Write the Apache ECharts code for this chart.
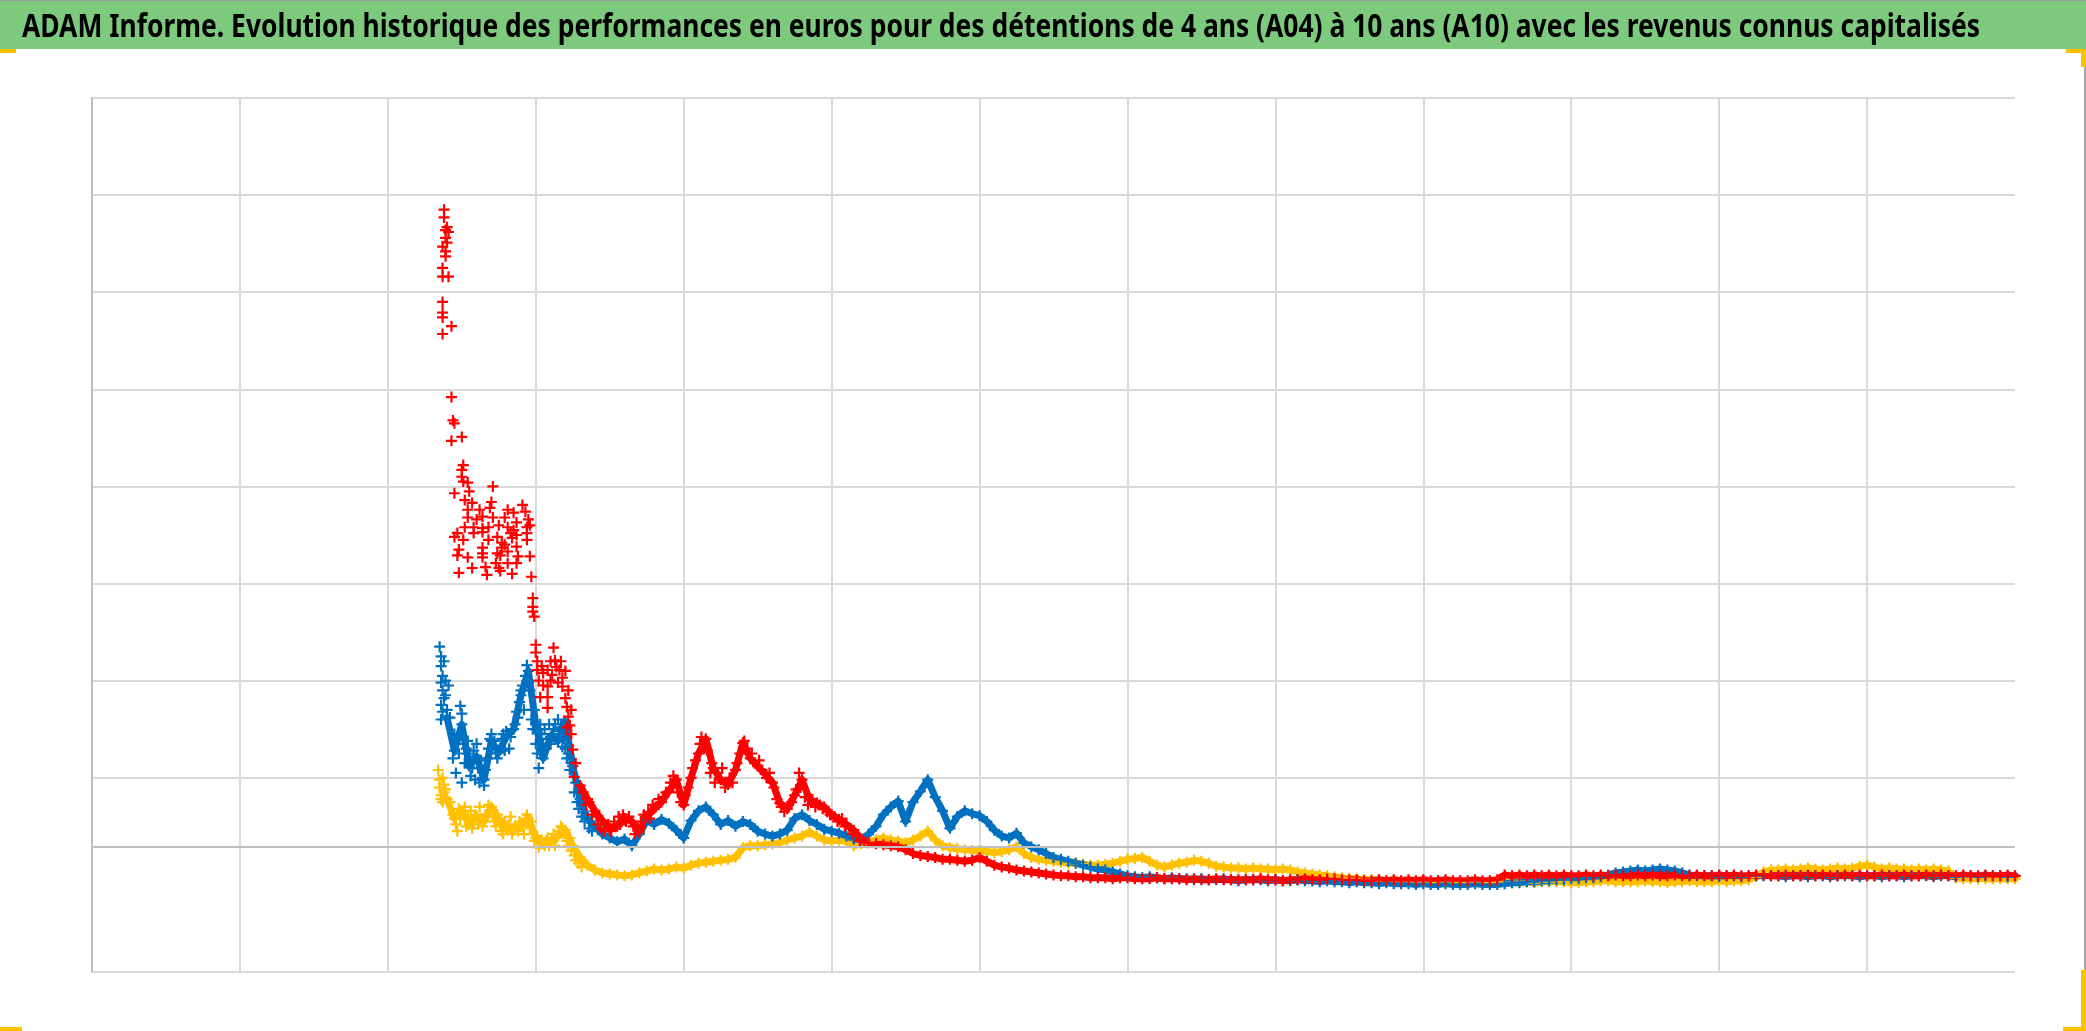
<!DOCTYPE html>
<html><head><meta charset="utf-8">
<script src="https://cdn.jsdelivr.net/npm/echarts@6/dist/echarts.min.js"></script>
<style>html,body{margin:0;padding:0;background:#fff;}#c{width:2086px;height:1031px;}</style>
</head><body><div id="c"></div>
<script>
const titleText = "ADAM Informe. Evolution historique des performances en euros pour des détentions de 4 ans (A04) à 10 ans (A10) avec les revenus connus capitalisés";

// x in plot units (one vertical gridline per unit), y in plot units (one horizontal gridline per unit)
const xStep = 0.05;
const axisCrossing = 1.287; // horizontal axis (darker line)

// A04 (yellow)
const a04Start = 2.40;
const a04Values = [
  1.78,1.58,1.66,1.52,1.6,1.55,1.7,1.58,1.48,1.46,
  1.52,1.58,1.38,1.32,1.34,1.4,1.46,1.3,1.18,1.1,
  1.05,1.02,1.01,1.0,0.99,1.0,1.02,1.04,1.06,1.05,
  1.06,1.08,1.07,1.1,1.12,1.13,1.14,1.15,1.16,1.18,
  1.28,1.3,1.3,1.31,1.32,1.33,1.36,1.38,1.4,1.44,
  1.4,1.36,1.35,1.36,1.34,1.3,1.32,1.34,1.36,1.38,
  1.36,1.35,1.33,1.36,1.4,1.45,1.36,1.3,1.28,1.27,
  1.26,1.25,1.25,1.24,1.23,1.24,1.26,1.29,1.22,1.18,
  1.16,1.15,1.14,1.13,1.12,1.12,1.11,1.1,1.1,1.11,
  1.12,1.14,1.16,1.17,1.18,1.14,1.1,1.08,1.1,1.12,
  1.13,1.15,1.14,1.12,1.09,1.08,1.07,1.07,1.06,1.07,
  1.06,1.06,1.05,1.06,1.05,1.03,1.02,1.01,1.0,0.99,
  0.98,0.97,0.96,0.96,0.95,0.95,0.94,0.94,0.94,0.93,
  0.93,0.93,0.92,0.92,0.93,0.92,0.92,0.93,0.92,0.92,
  0.92,0.92,0.93,0.92,0.92,0.93,0.93,0.92,0.93,0.93,
  0.93,0.93,0.92,0.92,0.93,0.93,0.94,0.94,0.93,0.93,
  0.93,0.93,0.94,0.93,0.93,0.92,0.93,0.93,0.94,0.93,
  0.93,0.93,0.94,0.93,0.94,0.94,0.95,0.98,1.03,1.05,
  1.05,1.06,1.05,1.06,1.07,1.06,1.05,1.06,1.07,1.06,
  1.07,1.09,1.1,1.08,1.06,1.07,1.06,1.06,1.05,1.06,
  1.05,1.06,1.05,1.04,0.97,0.96,0.96,0.96,0.96,0.96,
  0.96,0.96,0.96
];
const a04Extra = [
  [2.34,2.08],[2.35,1.98],[2.35,1.9],[2.36,1.82],[2.36,1.78],[2.37,2.0],[2.38,1.93],[2.38,1.85],
  [2.37,1.75],[2.39,1.88],[2.42,1.75],[2.47,1.45],[2.52,1.7],[2.57,1.48],[2.62,1.7],[2.72,1.55],
  [2.78,1.42],[2.83,1.6],[2.92,1.42],[2.97,1.55],[3.02,1.28],[3.08,1.38],[3.13,1.3],[3.17,1.5],[3.23,1.38],
  [2.44,1.62],[2.46,1.52],[2.48,1.68],[2.49,1.58],[2.51,1.62],[2.53,1.5],[2.54,1.6],[2.56,1.66],
  [2.58,1.55],[2.59,1.62],[2.61,1.52],[2.63,1.58],[2.64,1.5],[2.66,1.62],[2.68,1.72],[2.69,1.64],
  [2.71,1.6],[2.73,1.5],[2.74,1.62],[2.76,1.52],[2.77,1.45],[2.79,1.55],[2.81,1.48],[2.82,1.52],
  [2.84,1.42],[2.86,1.5],[2.88,1.45],[2.89,1.55],[2.91,1.5],[2.93,1.58],[2.94,1.62],[2.96,1.48],
  [2.98,1.42],[2.99,1.35],[3.01,1.4],[3.03,1.32],[3.04,1.36],[3.06,1.3],[3.07,1.35],[3.09,1.3],
  [3.11,1.36],[3.12,1.42],[3.14,1.38],[3.16,1.45],[3.18,1.48],[3.19,1.42],[3.21,1.35],[3.22,1.3],
  [3.24,1.25],[3.26,1.2],[3.27,1.15],[3.29,1.12],[3.31,1.08]
];

// A07 (blue)
const a07Start = 2.40;
const a07Values = [
  2.62,2.28,2.55,2.12,2.22,1.98,2.38,2.26,2.42,2.5,
  2.85,3.1,2.55,2.2,2.42,2.38,2.58,2.12,1.78,1.58,
  1.5,1.42,1.38,1.34,1.37,1.3,1.42,1.56,1.52,1.57,
  1.53,1.46,1.38,1.56,1.66,1.7,1.62,1.52,1.56,1.5,
  1.55,1.52,1.45,1.42,1.4,1.42,1.46,1.58,1.62,1.56,
  1.52,1.47,1.45,1.43,1.4,1.37,1.36,1.42,1.5,1.62,
  1.7,1.76,1.55,1.75,1.86,1.98,1.8,1.66,1.48,1.6,
  1.66,1.63,1.61,1.55,1.46,1.4,1.38,1.43,1.33,1.29,
  1.26,1.22,1.18,1.16,1.14,1.12,1.1,1.08,1.06,1.05,
  1.03,1.01,0.99,0.98,0.97,0.98,0.97,0.96,0.97,0.96,
  0.96,0.95,0.96,0.95,0.95,0.96,0.95,0.94,0.95,0.95,
  0.95,0.94,0.95,0.94,0.94,0.95,0.94,0.94,0.93,0.94,
  0.93,0.93,0.92,0.93,0.92,0.92,0.91,0.92,0.91,0.91,
  0.91,0.9,0.91,0.9,0.9,0.91,0.9,0.9,0.9,0.91,
  0.9,0.9,0.9,0.91,0.92,0.92,0.93,0.93,0.94,0.94,
  0.95,0.95,0.96,0.96,0.97,0.97,0.98,1.0,1.02,1.03,
  1.04,1.05,1.04,1.05,1.06,1.05,1.04,1.02,1.0,0.99,
  0.99,0.99,0.98,0.99,0.99,0.98,0.99,0.99,0.99,0.99,
  0.99,0.98,0.99,0.99,0.98,0.99,0.99,0.98,0.99,0.99,
  0.99,0.98,0.99,0.99,0.98,0.99,0.99,0.98,0.99,0.99,
  0.99,0.98,0.99,0.99,0.98,0.99,0.99,0.98,0.99,0.99,
  0.99,0.98,0.99
];
const a07Extra = [
  [2.35,3.35],[2.36,3.25],[2.36,3.15],[2.37,3.05],[2.36,2.98],[2.37,2.9],[2.38,2.82],[2.36,2.75],
  [2.37,2.68],[2.36,2.6],[2.38,3.2],[2.39,3.0],[2.39,2.85],[2.4,2.7],[2.41,2.95],[2.42,2.62],
  [2.49,2.74],[2.5,2.66],[2.45,2.45],[2.47,2.35],[2.53,2.3],[2.56,2.02],[2.58,2.28],[2.62,1.95],
  [2.63,2.18],[2.66,2.08],[2.69,2.4],[2.73,2.25],[2.78,2.45],[2.82,2.3],[2.88,2.62],[2.91,2.95],
  [2.92,2.7],[2.96,2.9],[2.99,2.7],[3.0,2.35],[3.02,2.1],[3.04,2.45],[3.07,2.3],[3.12,2.5],
  [3.18,2.32],[3.22,2.25],[3.27,1.95],[3.32,1.65],
  [2.44,2.2],[2.46,2.05],[2.48,2.25],[2.5,1.95],[2.52,2.15],[2.54,2.38],[2.55,2.25],[2.57,2.1],
  [2.59,1.98],[2.6,2.35],[2.61,2.1],[2.64,2.0],[2.65,1.92],[2.67,2.2],[2.68,2.3],[2.7,2.45],
  [2.72,2.38],[2.74,2.2],[2.76,2.3],[2.77,2.4],[2.79,2.28],[2.8,2.48],[2.83,2.42],[2.84,2.5],
  [2.86,2.55],[2.87,2.68],[2.89,2.78],[2.9,2.9],[2.93,3.05],[2.94,3.16],[2.95,2.98],[2.97,2.6],
  [2.98,2.5],[3.01,2.25],[3.03,2.55],[3.05,2.35],[3.06,2.5],[3.08,2.4],[3.09,2.55],[3.1,2.35],
  [3.11,2.45],[3.13,2.55],[3.14,2.4],[3.15,2.6],[3.16,2.48],[3.17,2.52],[3.19,2.4],[3.2,2.3],
  [3.21,2.2],[3.23,2.08],[3.24,2.15],[3.26,1.85],[3.28,1.75],[3.29,1.68],[3.31,1.6],[3.33,1.55],
  [3.36,1.48],[3.38,1.45]
];

// A10 (red)
const a10Start = 3.30;
const a10Values = [
  1.92,1.78,1.66,1.56,1.47,1.5,1.58,1.55,1.44,1.6,
  1.68,1.75,1.86,1.98,1.72,2.0,2.25,2.4,2.1,1.98,
  1.93,2.08,2.36,2.2,2.12,2.04,1.95,1.74,1.68,1.82,
  1.98,1.78,1.74,1.7,1.62,1.57,1.52,1.46,1.37,1.33,
  1.32,1.31,1.3,1.29,1.26,1.22,1.2,1.19,1.18,1.16,
  1.16,1.15,1.14,1.15,1.18,1.14,1.1,1.08,1.07,1.05,
  1.04,1.03,1.02,1.01,1.0,0.99,0.99,0.98,0.98,0.97,
  0.97,0.97,0.96,0.97,0.97,0.96,0.96,0.96,0.97,0.96,
  0.96,0.96,0.95,0.96,0.95,0.95,0.96,0.95,0.95,0.95,
  0.95,0.95,0.96,0.95,0.95,0.94,0.95,0.95,0.96,0.95,
  0.95,0.96,0.96,0.95,0.95,0.95,0.94,0.94,0.95,0.94,
  0.95,0.94,0.95,0.94,0.95,0.94,0.94,0.95,0.94,0.94,
  0.94,0.95,0.94,0.94,0.95,1.0,0.99,1.0,0.99,1.0,
  0.99,1.0,0.99,1.0,0.99,0.99,1.0,0.99,1.0,0.99,
  1.0,0.99,0.99,1.0,0.99,1.0,0.99,0.99,1.0,0.99,
  0.99,1.0,0.99,0.99,1.0,0.99,1.0,0.99,0.99,1.0,
  1.0,0.99,0.99,1.0,0.99,0.99,1.0,0.99,1.0,0.99,
  0.99,1.0,0.99,1.0,0.99,0.99,1.0,0.99,0.99,1.0,
  0.99,0.99,1.0,0.99,1.0,0.99,0.99,1.0,0.99,0.99,
  1.0,0.99,0.99,1.0,0.99
];
const a10Extra = [
  [2.38,7.85],[2.38,7.77],[2.40,7.67],[2.39,7.64],[2.41,7.62],[2.39,7.56],[2.40,7.51],[2.37,7.47],
  [2.39,7.42],[2.39,7.37],[2.37,7.25],[2.37,7.16],[2.41,7.16],
  [2.37,6.90],[2.37,6.79],[2.37,6.74],[2.43,6.65],[2.37,6.57],
  [2.43,5.92],[2.44,5.68],[2.45,5.65],[2.43,5.47],[2.50,5.51],
  [2.51,5.22],[2.50,5.17],[2.50,5.10],[2.51,5.05],[2.45,4.93],[2.54,5.04],[2.55,4.95],[2.71,5.00],
  [2.52,4.86],[2.57,4.83],[2.54,4.76],[2.62,4.76],[2.70,4.84],[2.69,4.78],[2.81,4.76],[2.85,4.73],
  [2.91,4.81],[2.93,4.74],[2.95,4.66],
  [2.54,4.68],[2.60,4.66],[2.64,4.69],[2.71,4.68],[2.79,4.68],[2.87,4.63],
  [2.52,4.58],[2.58,4.58],[2.64,4.57],[2.68,4.58],[2.75,4.60],[2.81,4.58],[2.85,4.55],[2.94,4.58],[2.96,4.60],
  [2.47,4.52],[2.58,4.52],[2.64,4.53],[2.83,4.52],[2.87,4.50],[2.94,4.52],
  [2.45,4.48],[2.51,4.45],[2.68,4.45],[2.74,4.48],[2.84,4.47],[2.94,4.45],
  [2.77,4.42],[2.79,4.40],[2.64,4.37],[2.77,4.37],[2.87,4.38],
  [2.48,4.35],[2.64,4.31],[2.74,4.31],[2.81,4.33],[2.47,4.29],[2.76,4.29],[2.96,4.28],[2.54,4.27],
  [2.64,4.27],[2.88,4.28],
  [2.73,4.21],[2.81,4.21],[2.87,4.21],[2.66,4.17],[2.57,4.16],[2.75,4.16],[2.76,4.13],[2.48,4.11],
  [2.67,4.09],[2.84,4.10],[2.97,4.07],
  [2.98,3.85],[2.98,3.76],[2.98,3.71],[2.99,3.66],[3.00,3.37],[3.00,3.29],[3.12,3.34],
  [3.01,3.20],[3.01,3.11],[3.05,3.08],[3.08,3.11],[3.11,3.06],[3.13,3.21],[3.14,3.14],[3.16,3.11],[3.18,3.03],
  [3.08,2.94],[3.03,2.83],[3.08,2.83],[3.08,2.72],[3.18,2.94],[3.20,2.82],[3.21,2.73],[3.22,2.63],
  [3.23,2.54],[3.21,2.52],[3.02,3.0],[3.05,2.95],[3.1,3.0],[3.15,2.98],[3.04,3.15],[3.1,3.2],
  [3.17,3.2],[3.2,3.1],[3.22,2.9],[3.24,2.7],[3.24,2.45],
  [3.25,2.29],[3.27,2.15],[3.26,2.01],
  [3.32,1.85],[3.34,1.72],[3.36,1.75],[3.38,1.62],[3.41,1.6],[3.42,1.52],[3.44,1.48],[3.46,1.45],
  [3.49,1.52],[3.51,1.45],[3.53,1.55],[3.56,1.6],[3.57,1.52],[3.59,1.62],[3.61,1.55],[3.63,1.6],
  [3.66,1.5],[3.67,1.42],[3.69,1.48],[3.71,1.55],[3.73,1.62],[3.76,1.65],[3.77,1.58],[3.79,1.72],
  [3.81,1.7],[3.83,1.78],[3.86,1.8],[3.88,1.85],[3.91,1.95],[3.93,2.02],[3.96,1.85],[3.98,1.75],
  [4.01,1.82],[4.03,1.9],[4.06,2.1],[4.08,2.18],[4.11,2.35],[4.12,2.42],[4.14,2.3],[4.16,2.28],
  [4.18,2.05],[4.19,2.15],[4.21,1.95],[4.23,2.05],[4.26,2.1],[4.28,1.9],[4.31,2.0],[4.33,1.95],
  [4.36,2.15],[4.38,2.25],[4.41,2.38],[4.43,2.3],[4.46,2.25],[4.48,2.15],[4.51,2.18],[4.53,2.08],
  [4.56,2.0],[4.58,2.05],[4.61,1.9],[4.63,1.78],[4.66,1.7],[4.68,1.65],[4.71,1.72],[4.73,1.75],
  [4.76,1.88],[4.78,2.05],[4.79,1.9],[4.82,1.8],[4.84,1.72],[4.87,1.78],[4.89,1.7],[4.92,1.72],
  [4.94,1.68],[4.97,1.65],[4.99,1.62],[5.02,1.6],[5.04,1.55],[5.07,1.58],[5.09,1.5],[5.12,1.48],
  [5.14,1.42],[5.17,1.4],[5.19,1.35],[5.22,1.34]
];

function mainPoints(start, values) {
  return values.map((v, i) => [Math.round((start + i * xStep) * 100) / 100, v]);
}

const plus = 'path://M4,0H6V4H10V6H6V10H4V6H0V4H4Z';
const gridColor = '#d9d9d9';
const colors = {A04: '#ffc000', A07: '#0070c0', A10: '#ff0000'};

// title width fitted to the reference title band
const titleFont = "bold 32px 'Noto Sans', 'Open Sans', sans-serif";
const mctx = document.createElement('canvas').getContext('2d');
mctx.font = titleFont;
const titleScale = 1958 / mctx.measureText(titleText).width;

const chart = echarts.init(document.getElementById('c'), null, {renderer: 'canvas'});
function scatter(name, data, extra) {
  return Object.assign({
    name: name, type: 'scatter', data: data, symbol: plus, symbolSize: 11, z: 3,
    itemStyle: {color: colors[name], opacity: 1}, silent: true, animation: false
  }, extra || {});
}
function band(name, data) {
  return {
    name: name, type: 'line', data: data, showSymbol: false, symbol: 'none', z: 2,
    lineStyle: {color: colors[name], width: 7, join: 'round', cap: 'round'}, silent: true, animation: false
  };
}
const a04Main = mainPoints(a04Start, a04Values);
const a07Main = mainPoints(a07Start, a07Values);
const a10Main = mainPoints(a10Start, a10Values);

chart.setOption({
  backgroundColor: '#ffffff',
  animation: false,
  graphic: [
    {type: 'rect', shape: {x: 0, y: 0, width: 2086, height: 49}, style: {fill: '#7dc97d'}, z: 0},
    {type: 'rect', shape: {x: 0, y: 0, width: 2086, height: 1}, style: {fill: '#9a9a9a'}, z: 1},
    {type: 'text', x: 22, y: 28, scaleX: titleScale, z: 2,
      style: {text: titleText, font: titleFont, fill: '#000', verticalAlign: 'middle', align: 'left'}},
    {type: 'rect', shape: {x: 0, y: 49, width: 16, height: 4}, style: {fill: '#ffc000'}, z: 1},
    {type: 'rect', shape: {x: 2066, y: 49, width: 20, height: 4}, style: {fill: '#ffc000'}, z: 1},
    {type: 'rect', shape: {x: 2081, y: 49, width: 5, height: 18}, style: {fill: '#ffc000'}, z: 1},
    {type: 'rect', shape: {x: 2084, y: 67, width: 2, height: 903}, style: {fill: '#a6a6a6'}, z: 1},
    {type: 'rect', shape: {x: 2081, y: 970, width: 5, height: 61}, style: {fill: '#ffc000'}, z: 1},
    {type: 'rect', shape: {x: 2063, y: 1027, width: 23, height: 4}, style: {fill: '#ffc000'}, z: 1},
    {type: 'rect', shape: {x: 0, y: 1027, width: 22, height: 4}, style: {fill: '#ffc000'}, z: 1}
  ],
  grid: {left: 92, right: 71, top: 98, bottom: 59, containLabel: false},
  xAxis: {
    type: 'value', min: 0, max: 13, interval: 1,
    axisLine: {show: false}, axisTick: {show: false}, axisLabel: {show: false},
    splitLine: {show: true, showMaxLine: false, lineStyle: {color: gridColor, width: 2}}
  },
  yAxis: {
    type: 'value', min: 0, max: 9, interval: 1,
    axisLine: {show: true, lineStyle: {color: '#bfbfbf', width: 2}},
    axisTick: {show: false}, axisLabel: {show: false},
    splitLine: {show: true, lineStyle: {width: 2, color: [gridColor, 'rgba(0,0,0,0)', gridColor, gridColor, gridColor, gridColor, gridColor, gridColor, gridColor, gridColor]}}
  },
  series: [
    band('A04', a04Main),
    scatter('A04', a04Extra.concat(a04Main), {
      markLine: {silent: true, symbol: ['none', 'none'], label: {show: false}, animation: false,
        lineStyle: {color: '#bfbfbf', width: 2, type: 'solid'}, data: [{yAxis: axisCrossing}]}
    }),
    band('A07', a07Main),
    scatter('A07', a07Extra.concat(a07Main)),
    band('A10', a10Main),
    scatter('A10', a10Extra.concat(a10Main))
  ]
});
</script></body></html>
